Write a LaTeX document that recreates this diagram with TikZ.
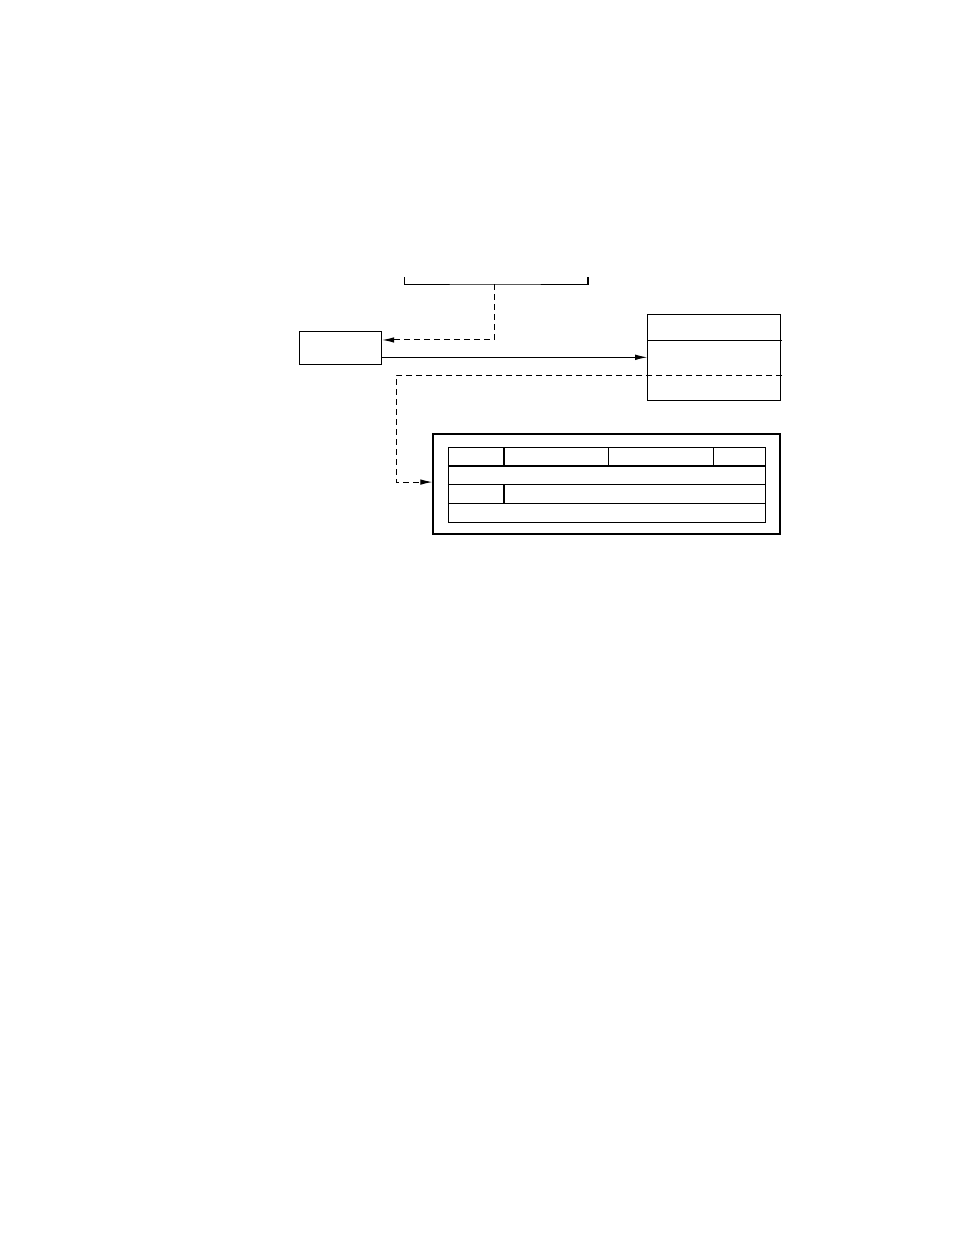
\documentclass[tikz,border=0pt]{standalone}
\usetikzlibrary{arrows.meta}
\tikzset{
  box/.style={draw, line width=0.75pt, inner sep=0pt},
  link/.style={line width=0.75pt, -{Latex[length=9pt,width=4.2pt]}},
  dlink/.style={link, dash pattern=on 4.5pt off 3pt},
}
\begin{document}
\begin{tikzpicture}[x=0.75pt, y=-0.75pt]
	\useasboundingbox (0,0) rectangle (954,1235);

	% Draw the boxes
	\node [box, minimum width=61.8pt, minimum height=25pt] (src) at (340.5,347.7) {};
	\node [box, minimum width=99.5pt, minimum height=64.3pt] (tbl) at (714,357.2) {};
	\node [box, line width=1.5pt, minimum width=260pt, minimum height=75.2pt] (frame) at (606.7,484.2) {};
	\node [box, minimum width=238pt, minimum height=56.3pt] (grid) at (607,484.8) {};

	% Draw the bracket
	\coordinate (brL) at (404,277);
	\coordinate (brR) at (588,277);
	\coordinate (brM) at (494,284);
	\draw [line width=0.75pt] (brL) |- (brM) -| (brR);
	\draw [line width=1.5pt] (brR) -- ++(0,7);

	% Draw the table rows
	\draw [line width=0.75pt] (tbl.west |- 0,340.3) -- (782,340.3);
	\draw [line width=1.2pt] (grid.west |- 0,465.7) -- (grid.east |- 0,465.7);
	\draw [line width=0.75pt] (grid.west |- 0,484.3) -- (grid.east |- 0,484.3);
	\draw [line width=0.75pt] (grid.west |- 0,503.3) -- (grid.east |- 0,503.3);
	\draw [line width=1.2pt] (504,447.3) -- (504,465.7);
	\draw [line width=0.75pt] (608.7,447.3) -- (608.7,465.7);
	\draw [line width=1.2pt] (713.3,447.3) -- (713.3,465.7);
	\draw [line width=1.2pt] (504,484.3) -- (504,503.3);

	% Draw the arrows
	\coordinate (cut) at (782,375.3);
	\coordinate (bend) at (396,375.3);
	\draw [dlink] (brM) |- ([yshift=5.8pt]src.east);
	\draw [link] ([yshift=-7.2pt]src.east) -- ([yshift=-7.2pt]src.east -| tbl.west);
	\draw [dlink] (cut) -- (bend) |- ([yshift=1.6pt]frame.west);
\end{tikzpicture}
\end{document}
